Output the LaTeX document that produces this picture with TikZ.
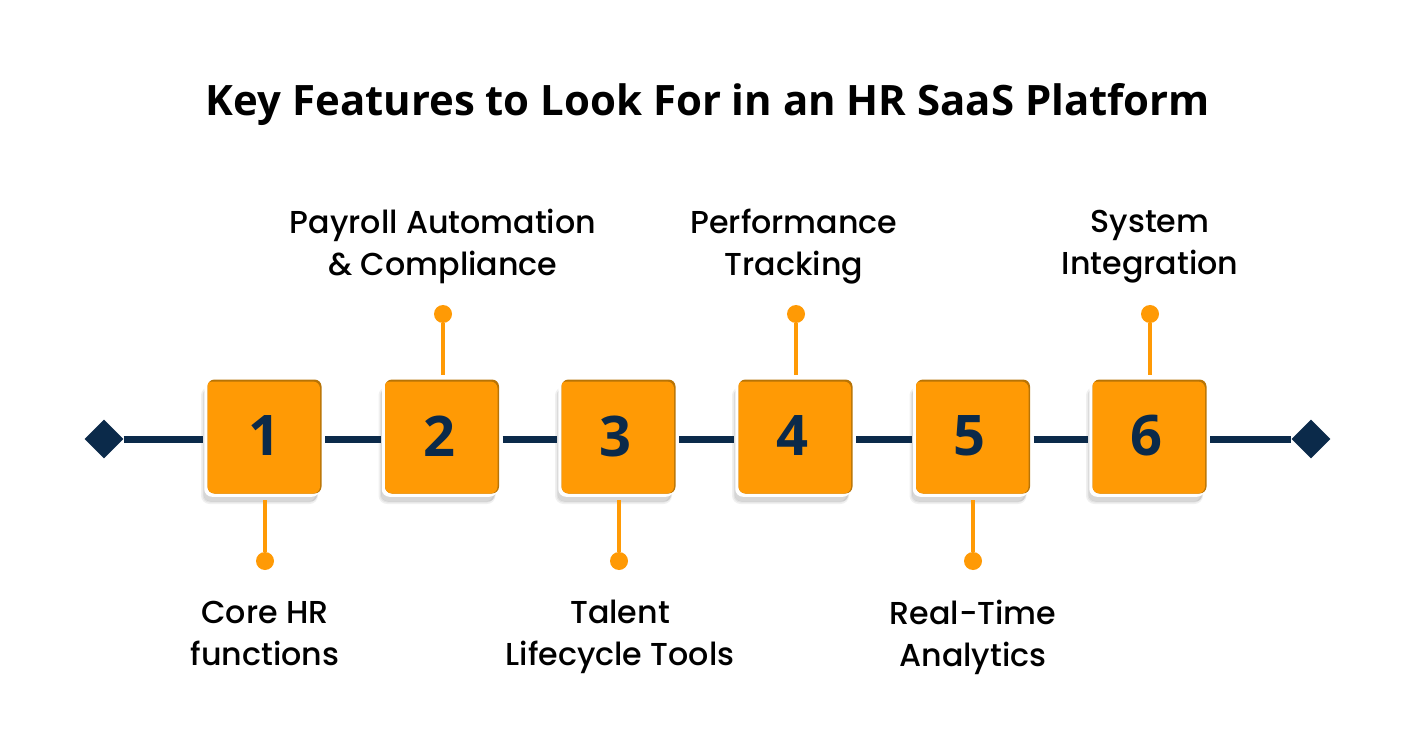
\documentclass[tikz,border=0pt]{standalone}
\usepackage{fontspec}
\setmainfont{Poppins}
\newfontfamily\labelfont{Poppins Medium}
\newfontfamily\titlefont{Open Sans}
\usetikzlibrary{shapes.geometric,shadows}
\definecolor{navy}{HTML}{0B2A4A}
\definecolor{amber}{HTML}{FF9A05}
\definecolor{amberdark}{HTML}{B87406}
\begin{document}
\begin{tikzpicture}[%
  x=1pt,y=-1pt,
  box/.style={rectangle,rounded corners=7pt,minimum size=114pt,inner sep=0pt,fill=amberdark,
    general shadow={shadow xshift=-5pt,shadow yshift=-9pt,fill=gray,opacity=.12,draw=gray,draw opacity=.12,line width=3pt},
    general shadow={shadow xshift=-4pt,shadow yshift=-8pt,fill=gray,opacity=.22},
    general shadow={shadow xshift=-2.5pt,shadow yshift=-2.5pt,fill=white,draw=white,line width=1.5pt},
    path picture={\fill[amber,rounded corners=7pt] ([xshift=-2pt,yshift=-2pt]path picture bounding box.north west) rectangle ([xshift=-1.5pt]path picture bounding box.south east);}},
  num/.style={font=\titlefont\bfseries\fontsize{56}{56}\selectfont,text=navy,inner sep=0pt},
  pin/.style={circle,fill=amber,minimum size=18pt,inner sep=0pt},
  stem/.style={draw=amber,line width=3.5pt},
  tlabel/.style={font=\labelfont\fontsize{31.7}{42}\selectfont,text=black,align=center,inner sep=0pt,
    execute at begin node={\rule{0pt}{30pt}},execute at end node={\rule[-10pt]{0pt}{10pt}}},
  ends/.style={diamond,fill=navy,minimum size=39pt,inner sep=0pt},
  spine/.style={draw=navy,line width=7pt}]
\useasboundingbox (0,0) rectangle (1416,743);
\node[font=\titlefont\bfseries\fontsize{41.9}{42}\selectfont] (title) at (708,105) {Key Features to Look For in an HR SaaS Platform};
% the timeline
\node[ends] (left) at (104,439) {};
\node[ends] (right) at (1311,439) {};
\foreach \i/\x/\d in {1/264.5/264,2/442/439,3/618.5/615,4/795.5/792,5/973/969.5,6/1149.5/1146.5}{
  \node[box] (box\i) at (\x,436.5) {};
  \node[num] (num\i) at (\d,436) {\i};
}
\draw[spine,shorten >=4pt] (left) -- (box1.west |- left);
\foreach \a/\b in {1/2,2/3,3/4,4/5,5/6}{
  \draw[spine,shorten <=3.5pt,shorten >=4pt] (box\a.east |- left) -- (box\b.west |- left);
}
\draw[spine,shorten <=3.5pt] (box6.east |- right) -- (right);
% top pins
\foreach \i/\x/\txt in {2/443/{Payroll Automation\\\& Compliance},4/794/{Performance\\Tracking},6/1150/{System\\Integration}}{
  \node[tlabel] (lbl\i) at (\x,247) {\txt};
}
\foreach \i/\x in {2/443,4/796,6/1150}{
  \node[pin] (pin\i) at (\x,314) {};
  \draw[stem,shorten >=4pt] (pin\i) -- (pin\i |- box\i.north);
}
% bottom pins
\foreach \i/\x/\txt in {1/265/{Core HR\\functions},3/620/{Talent\\Lifecycle Tools},5/973/{Real-Time\\Analytics}}{
  \node[tlabel] (lbl\i) at (\x,638) {\txt};
}
\foreach \i/\x in {1/265,3/619,5/973}{
  \node[pin] (pin\i) at (\x,561) {};
  \draw[stem,shorten >=6pt] (pin\i) -- (pin\i |- box\i.south);
}
\end{tikzpicture}
\end{document}
